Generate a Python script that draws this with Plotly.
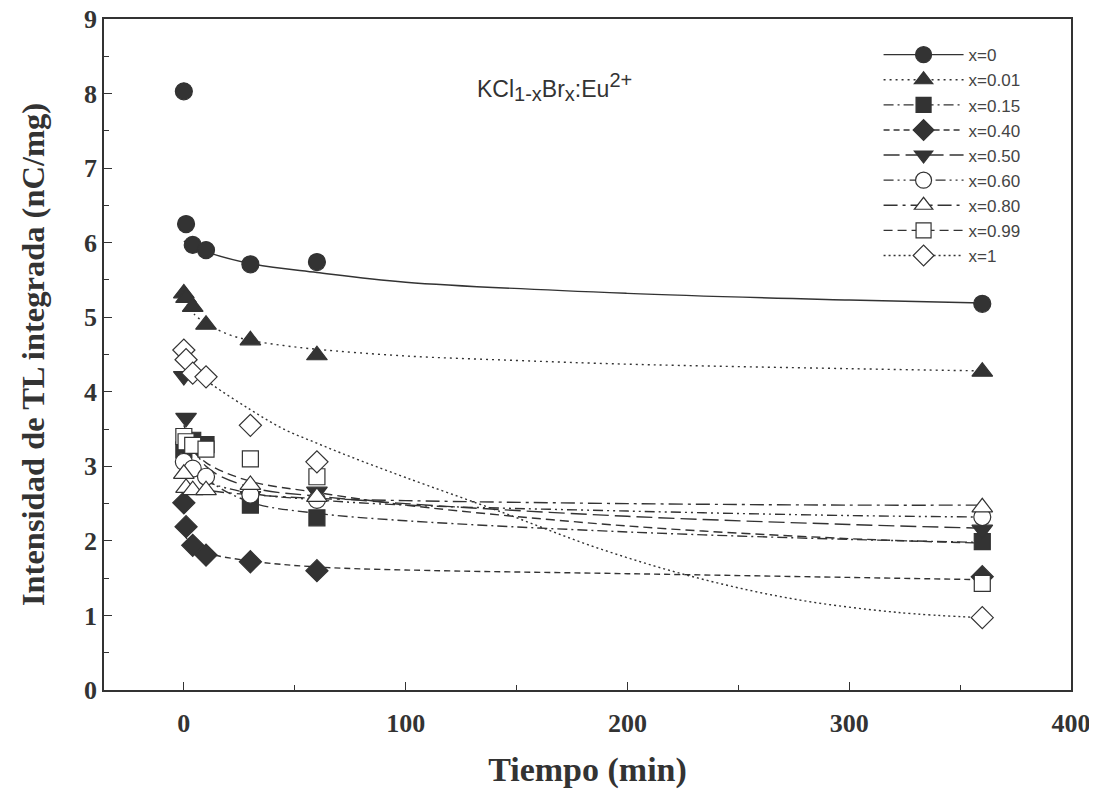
import plotly.graph_objects as go

# ---- measured data (time in min, intensity in nC/mg) ----
names = ["x=0", "x=0.01", "x=0.15", "x=0.40", "x=0.50", "x=0.60", "x=0.80", "x=0.99", "x=1"]

t_x0 = [0, 1, 4, 10, 30, 60, 360]
y_x0 = [8.03, 6.25, 5.97, 5.90, 5.71, 5.74, 5.18]

t_x001 = [0, 1, 4, 10, 30, 60, 360]
y_x001 = [5.32, 5.26, 5.14, 4.90, 4.69, 4.49, 4.27]

t_x015 = [0, 4, 10, 30, 60, 360]
y_x015 = [3.22, 3.35, 3.29, 2.48, 2.31, 1.99]

t_x040 = [0, 1, 4, 10, 30, 60, 360]
y_x040 = [2.51, 2.19, 1.94, 1.81, 1.72, 1.60, 1.52]

t_x050 = [0, 1, 30, 60, 360]
y_x050 = [4.21, 3.65, 2.60, 2.66, 2.15]

t_x060 = [0, 4, 10, 30, 60, 360]
y_x060 = [3.06, 2.97, 2.86, 2.62, 2.55, 2.32]

t_x080 = [0, 1, 4, 10, 30, 60, 360]
y_x080 = [2.90, 2.71, 2.68, 2.68, 2.75, 2.59, 2.45]

t_x099 = [0, 1, 4, 10, 30, 60, 360]
y_x099 = [3.40, 3.33, 3.28, 3.23, 3.10, 2.86, 1.43]

t_x1 = [0, 1, 4, 10, 30, 60, 360]
y_x1 = [4.56, 4.43, 4.25, 4.20, 3.55, 3.06, 0.97]

# ---- fitted curves ----
ft_x0 = [0, 10, 30, 60, 100, 200, 300, 360]
fy_x0 = [6.02, 5.88, 5.72, 5.60, 5.47, 5.32, 5.23, 5.19]

ft_x001 = [0, 5, 10, 20, 30, 45, 60, 100, 150, 200, 300, 360]
fy_x001 = [5.25, 5.03, 4.92, 4.77, 4.69, 4.62, 4.57, 4.48, 4.42, 4.37, 4.31, 4.28]

ft_x015 = [0, 10, 30, 60, 100, 200, 300, 360]
fy_x015 = [3.30, 2.85, 2.52, 2.37, 2.27, 2.12, 2.02, 1.98]

ft_x040 = [0, 4, 10, 30, 60, 100, 200, 300, 360]
fy_x040 = [2.10, 1.93, 1.84, 1.73, 1.65, 1.61, 1.56, 1.51, 1.48]

ft_x050 = [0, 10, 30, 60, 100, 200, 300, 360]
fy_x050 = [3.55, 3.00, 2.72, 2.60, 2.50, 2.33, 2.22, 2.17]

ft_x060 = [0, 10, 30, 60, 100, 200, 300, 360]
fy_x060 = [3.00, 2.80, 2.64, 2.55, 2.48, 2.40, 2.34, 2.32]

ft_x080 = [0, 10, 30, 60, 100, 200, 300, 360]
fy_x080 = [2.75, 2.68, 2.62, 2.57, 2.54, 2.50, 2.48, 2.48]

ft_x099 = [0, 10, 30, 60, 100, 200, 300, 360]
fy_x099 = [3.35, 3.05, 2.80, 2.65, 2.48, 2.20, 2.03, 1.97]

ft_x1 = [0, 5, 13, 30, 45, 60, 75, 100, 142, 187, 232, 277, 322, 360]
fy_x1 = [4.40, 4.27, 4.09, 3.76, 3.50, 3.31, 3.13, 2.85, 2.40, 1.90, 1.50, 1.21, 1.04, 0.97]

pts_t = [t_x0, t_x001, t_x015, t_x040, t_x050, t_x060, t_x080, t_x099, t_x1]
pts_y = [y_x0, y_x001, y_x015, y_x040, y_x050, y_x060, y_x080, y_x099, y_x1]
fit_t = [ft_x0, ft_x001, ft_x015, ft_x040, ft_x050, ft_x060, ft_x080, ft_x099, ft_x1]
fit_y = [fy_x0, fy_x001, fy_x015, fy_x040, fy_x050, fy_x060, fy_x080, fy_x099, fy_x1]

symbols = ["circle", "triangle-up", "square", "diamond", "triangle-down",
           "circle", "triangle-up", "square", "diamond"]
filled = [True, True, True, True, True, False, False, False, False]
dashes = ["solid", "2px,4px", "10px,4px,2px,4px", "6px,4px", "16px,6px",
          "10px,4px,2px,4px,2px,4px", "14px,5px,3px,5px", "9px,5px", "2px,3px"]
sizes = [17, 18, 16, 17, 18, 17, 18, 16, 17]

INK = "#333333"
SERIF = "Liberation Serif, Times New Roman, serif"
SANS = "Liberation Sans, Arial, sans-serif"

fig = go.Figure()

# fit lines
for i in range(len(names)):
    fig.add_trace(go.Scatter(
        x=fit_t[i], y=fit_y[i], mode="lines", line_shape="spline",
        line=dict(color=INK, width=1.4, dash=dashes[i]),
        showlegend=False, hoverinfo="skip"))

# data points
for i in range(len(names)):
    fig.add_trace(go.Scatter(
        x=pts_t[i], y=pts_y[i], mode="markers", name=names[i],
        marker=dict(symbol=symbols[i], size=sizes[i],
                    color=INK if filled[i] else "white",
                    line=dict(color=INK, width=1.2)),
        showlegend=False))

# legend entries (line + marker sample)
for i in range(len(names)):
    fig.add_trace(go.Scatter(
        x=[None], y=[None], mode="lines+markers", name=names[i],
        line=dict(color=INK, width=1.4, dash=dashes[i]),
        marker=dict(symbol=symbols[i], size=sizes[i] - 1,
                    color=INK if filled[i] else "white",
                    line=dict(color=INK, width=1.2))))

fig.add_annotation(
    x=0.466, y=0.928, xref="paper", yref="paper", showarrow=False,
    text=("KCl<sub><span style='font-size:20px'>1-x</span></sub>"
          "Br<sub><span style='font-size:20px'>x</span></sub>"
          ":Eu<sup><span style='font-size:20px'>2+</span></sup>"),
    font=dict(family=SANS, size=23, color=INK))

tick_font = dict(family=SERIF, size=26, color=INK, weight="bold")

fig.update_layout(
    width=1089, height=781,
    margin=dict(l=96, r=26, t=11, b=99, autoexpand=False),
    paper_bgcolor="white", plot_bgcolor="white",
    font=dict(family=SANS, color=INK),
    legend=dict(x=0.801, y=0.973, xanchor="left", yanchor="top",
                bgcolor="rgba(0,0,0,0)", itemwidth=80,
                font=dict(family=SANS, size=17, color="#444444")),
    xaxis=dict(range=[-36, 400], tickvals=[0, 100, 200, 300, 400],
               ticks="inside", ticklen=8, tickcolor=INK, automargin=False,
               minor=dict(tickvals=[50, 150, 250, 350], ticks="inside", ticklen=5, tickcolor=INK),
               showline=True, linecolor=INK, linewidth=1.5, mirror=True,
               showgrid=False, zeroline=False,
               tickfont=tick_font, ticklabelstandoff=9, ticklabeloverflow="allow",
               title=dict(text="<b>Tiempo (min)</b>", standoff=20,
                          font=dict(family=SERIF, size=34, color=INK))),
    yaxis=dict(range=[0, 9], dtick=1,
               ticks="inside", ticklen=8, tickcolor=INK, automargin=False,
               minor=dict(dtick=0.5, ticks="inside", ticklen=5, tickcolor=INK),
               showline=True, linecolor=INK, linewidth=1.5, mirror=True,
               showgrid=False, zeroline=False,
               tickfont=tick_font, ticklabelstandoff=0, ticklabeloverflow="allow",
               title=dict(text="<b>Intensidad de TL integrada (nC/mg)</b>", standoff=30,
                          font=dict(family=SERIF, size=32.5, color=INK))),
)

fig.write_html("out.html")
